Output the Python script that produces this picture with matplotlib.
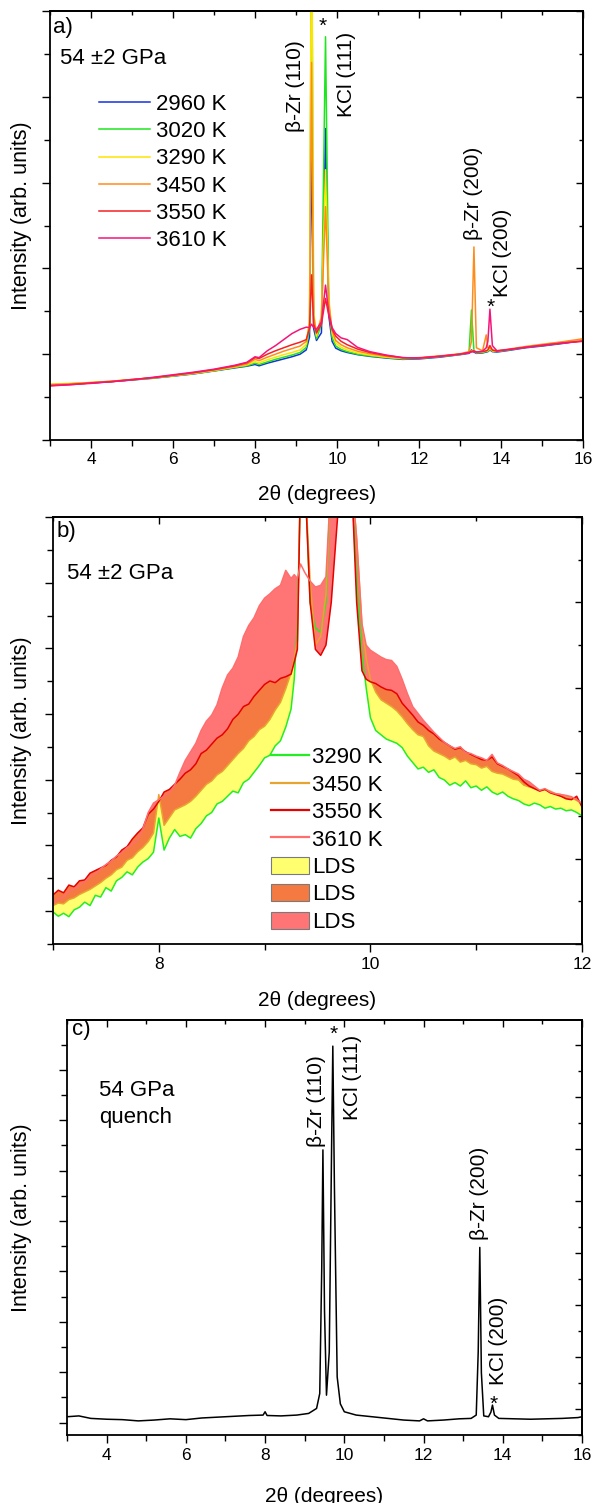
import matplotlib
matplotlib.use('Agg')
import matplotlib.pyplot as plt
from matplotlib.ticker import MultipleLocator
from matplotlib.patches import Patch
from matplotlib.lines import Line2D

plt.rcParams['font.family'] = ['Liberation Sans', 'DejaVu Sans']

# ---------------- panel a: 54 +-2 GPa, heating series ----------------
xa = [3.0, 3.5, 4.0, 4.5, 5.0, 5.5, 6.0, 6.5, 7.0, 7.5,
      7.8, 8.0, 8.1, 8.3, 8.5, 8.7, 8.9, 9.1, 9.25, 9.33,
      9.38, 9.43, 9.5, 9.62, 9.72, 9.8, 9.88, 9.97, 10.1, 10.25,
      10.5, 10.8, 11.2, 11.6, 12.0, 12.5, 13.0, 13.22, 13.28, 13.34,
      13.4, 13.55, 13.64, 13.68, 13.73, 13.79, 13.9, 14.2, 14.6, 15.0,
      15.5, 16.0]
a_2960 = [12.8, 13.0, 13.3, 13.6, 14.0, 14.4, 14.9, 15.4, 16.1, 16.8,
          17.2, 17.6, 17.3, 17.9, 18.4, 18.9, 19.4, 20.0, 21.0, 24.0,
          70.0, 26.0, 23.2, 25.0, 72.6, 29.0, 23.0, 21.4, 20.8, 20.4,
          19.9, 19.5, 19.1, 18.8, 18.9, 19.3, 19.9, 20.2, 21.0, 20.5,
          20.2, 20.3, 20.5, 20.6, 21.0, 20.6, 20.5, 20.9, 21.5, 21.9,
          22.5, 23.2]
a_3020 = [12.9, 13.1, 13.3, 13.7, 14.0, 14.4, 14.9, 15.5, 16.1, 16.9,
          17.3, 17.9, 17.6, 18.2, 18.8, 19.3, 19.8, 20.4, 21.6, 26.0,
          130.0, 28.0, 23.6, 27.0, 94.0, 31.0, 24.0, 21.9, 21.1, 20.6,
          20.0, 19.6, 19.2, 18.9, 19.0, 19.4, 19.9, 20.4, 30.3, 20.8,
          20.3, 20.4, 20.6, 20.7, 21.2, 20.7, 20.6, 21.0, 21.6, 22.0,
          22.6, 23.3]
a_3290 = [13.0, 13.2, 13.4, 13.7, 14.1, 14.5, 15.0, 15.5, 16.2, 17.0,
          17.5, 18.3, 18.0, 18.7, 19.3, 19.9, 20.4, 21.0, 22.3, 28.0,
          130.0, 30.0, 24.2, 29.0, 63.0, 33.0, 25.0, 22.6, 21.6, 21.0,
          20.3, 19.8, 19.3, 19.0, 19.1, 19.5, 20.0, 20.4, 20.8, 20.9,
          20.4, 20.5, 20.8, 20.8, 21.3, 20.8, 20.7, 21.1, 21.7, 22.1,
          22.7, 23.4]
a_3450 = [12.9, 13.1, 13.4, 13.7, 14.1, 14.5, 15.0, 15.6, 16.3, 17.1,
          17.7, 18.8, 18.5, 19.3, 20.0, 20.7, 21.3, 21.9, 23.0, 27.0,
          88.0, 29.0, 24.8, 28.5, 54.4, 32.0, 25.5, 23.2, 22.2, 21.5,
          20.7, 20.1, 19.5, 19.1, 19.2, 19.6, 20.1, 20.6, 23.0, 45.0,
          21.5, 20.8, 24.5, 21.5, 21.4, 20.9, 20.8, 21.2, 21.8, 22.3,
          22.9, 23.6]
a_3550 = [12.7, 12.9, 13.3, 13.6, 14.1, 14.5, 15.1, 15.7, 16.4, 17.3,
          18.0, 19.2, 19.0, 20.0, 20.8, 21.5, 22.2, 22.8, 23.4, 26.0,
          38.5, 27.0, 25.0, 27.0, 33.0, 29.0, 25.8, 24.2, 23.0, 22.2,
          21.2, 20.4, 19.7, 19.2, 19.1, 19.5, 20.0, 20.4, 20.7, 20.8,
          20.5, 20.6, 20.8, 21.0, 22.0, 21.0, 20.7, 21.1, 21.6, 22.1,
          22.6, 23.0]
a_3610 = [12.6, 12.9, 13.2, 13.6, 14.0, 14.6, 15.2, 15.8, 16.5, 17.4,
          18.1, 19.4, 19.2, 20.8, 22.0, 23.4, 24.8, 25.8, 26.3, 26.2,
          27.0, 26.2, 25.8, 27.5, 36.1, 29.5, 26.2, 24.8, 23.8, 23.4,
          21.6, 20.6, 19.8, 19.2, 19.1, 19.5, 20.0, 20.3, 20.5, 20.6,
          20.5, 20.7, 21.5, 23.0, 30.5, 22.0, 20.8, 21.1, 21.6, 22.0,
          22.6, 23.1]
a_labels = ['2960 K', '3020 K', '3290 K', '3450 K', '3550 K', '3610 K']
a_colors = ['#1432E0', '#1EE61E', '#FFE400', '#FF8C1A', '#F52222', '#F5157A']

# ---------------- panel b: zoom on the diffuse signal ----------------
xb = [7.00, 7.05, 7.10, 7.15, 7.20, 7.25, 7.30, 7.35, 7.40, 7.45,
      7.50, 7.55, 7.60, 7.65, 7.70, 7.75, 7.80, 7.85, 7.90, 7.95,
      8.00, 8.05, 8.10, 8.15, 8.20, 8.25, 8.30, 8.35, 8.40, 8.45,
      8.50, 8.55, 8.60, 8.65, 8.70, 8.75, 8.80, 8.85, 8.90, 8.95,
      9.00, 9.05, 9.10, 9.15, 9.20, 9.25,
      9.28, 9.31, 9.34, 9.38, 9.43, 9.48, 9.53, 9.58, 9.63, 9.72,
      9.82, 9.87, 9.92, 9.96,
      10.00, 10.05, 10.10, 10.15, 10.20, 10.25, 10.30, 10.35, 10.40, 10.45,
      10.50, 10.55, 10.60, 10.65, 10.70, 10.75, 10.80, 10.85, 10.90, 10.95,
      11.00, 11.05, 11.10, 11.15, 11.20, 11.25, 11.30, 11.35, 11.40, 11.45,
      11.50, 11.55, 11.60, 11.65, 11.70, 11.75, 11.80, 11.85, 11.90, 11.95,
      12.00]
b_3290 = [7.5, 6.5, 7.2, 6.4, 8.0, 8.6, 9.8, 9.0, 11.4, 11.0,
          13.2, 12.4, 14.8, 15.6, 16.9, 16.2, 18.0, 19.2, 20.0, 21.5,
          29.5, 22.0, 24.8, 26.8, 25.2, 25.6, 24.8, 27.0, 28.2, 30.0,
          30.8, 32.8, 33.4, 34.6, 35.8, 35.4, 37.8, 38.6, 40.2, 41.8,
          43.6, 44.2, 46.4, 47.6, 50.8, 55.0,
          62.0, 75.0, 110.0, 110.0, 80.0, 74.0, 73.0, 80.0, 110.0, 110.0,
          110.0, 85.0, 68.0, 60.0,
          53.0, 50.0, 49.0, 48.0, 47.5, 47.0, 46.0, 44.0, 42.5, 41.0,
          41.4, 40.2, 40.8, 39.0, 38.4, 37.2, 37.8, 37.0, 38.2, 36.6,
          37.0, 36.0, 36.8, 35.6, 35.0, 35.6, 34.6, 34.0, 33.6, 32.8,
          32.4, 33.0, 32.6, 31.8, 32.2, 31.6, 31.8, 31.2, 31.4, 30.8,
          30.0]
b_3450 = [9.0, 9.6, 9.4, 10.4, 10.8, 11.6, 12.2, 12.8, 13.6, 14.4,
          15.4, 16.2, 17.4, 18.0, 19.6, 20.2, 21.6, 22.6, 24.0, 26.0,
          35.0, 27.8, 29.6, 31.4, 32.0, 32.6, 33.4, 34.6, 36.0, 37.4,
          38.2, 39.6, 40.4, 41.8, 43.2, 44.6, 45.8, 47.6, 48.6, 50.2,
          51.0, 52.6, 54.8, 56.6, 59.8, 63.5,
          67.0, 71.0, 110.0, 110.0, 85.0, 70.0, 72.0, 82.0, 110.0, 110.0,
          110.0, 95.0, 75.0, 67.0,
          62.0, 59.0, 57.2, 56.4, 55.6, 54.6, 53.2, 51.6, 50.2, 49.0,
          48.6, 46.4, 45.2, 44.6, 44.0, 43.2, 43.8, 42.6, 43.0, 42.2,
          42.0, 41.2, 41.6, 40.4, 40.0, 39.8, 39.2, 38.6, 38.4, 37.2,
          36.8, 36.4, 36.0, 36.2, 35.8, 35.2, 35.0, 34.6, 34.3, 33.6,
          32.9]
b_3550 = [11.5, 12.6, 12.0, 13.8, 13.4, 14.8, 15.0, 16.6, 17.2, 17.8,
          18.4, 19.6, 20.4, 22.0, 22.8, 24.6, 26.0, 27.2, 30.4, 31.6,
          33.4, 35.6, 36.2, 37.4, 38.6, 40.0, 40.8, 42.2, 44.6, 45.4,
          46.8, 48.2, 49.0, 50.4, 52.6, 53.8, 55.6, 56.2, 58.0, 59.4,
          60.8, 61.6, 61.2, 62.2, 62.6, 63.2,
          66.0, 69.0, 110.0, 110.0, 80.0, 69.0, 67.6, 70.0, 80.0, 110.0,
          110.0, 80.0, 64.0, 62.0,
          61.4, 61.0, 60.2, 59.6, 59.4, 58.6, 56.4, 55.0, 53.6, 52.0,
          51.2, 50.0, 49.2, 48.0, 47.2, 46.4, 45.6, 46.0, 45.0, 44.4,
          43.8, 43.2, 43.0, 43.8, 42.2, 41.6, 41.0, 40.2, 39.4, 38.0,
          37.0, 36.4, 35.8, 36.2, 35.4, 35.0, 34.6, 34.0, 33.8, 34.6,
          32.1]
b_3610 = [9.5, 10.6, 11.0, 12.4, 13.0, 13.8, 14.6, 15.8, 16.4, 17.6,
          18.6, 19.4, 20.6, 21.4, 22.6, 23.4, 24.4, 27.0, 30.8, 33.0,
          33.8, 34.6, 35.4, 37.2, 40.2, 43.0, 45.0, 47.0, 50.0, 52.2,
          53.6, 56.0, 60.0, 63.0, 64.6, 67.2, 72.0, 74.6, 76.4, 79.2,
          81.0, 82.0, 83.2, 84.0, 87.5, 85.6,
          86.5, 85.6, 89.0, 87.0, 85.0, 83.6, 84.0, 86.0, 110.0, 110.0,
          110.0, 95.0, 75.0, 70.0,
          68.8, 68.0, 67.2, 66.6, 66.4, 65.0, 62.0, 58.6, 55.6, 54.0,
          52.4, 51.0, 49.6, 48.4, 47.2, 46.4, 45.8, 46.2, 44.8, 44.6,
          44.0, 43.6, 43.0, 44.4, 42.4, 41.8, 41.0, 40.4, 39.8, 38.6,
          38.0, 37.0, 36.0, 36.4, 35.6, 35.2, 35.0, 34.8, 34.5, 33.8,
          32.9]
b_labels = ['3290 K', '3450 K', '3550 K', '3610 K']
b_colors = ['#22EE22', '#E8A430', '#E60000', '#FF6E6E']
lds_colors = ['#FFFF70', '#F47A42', '#FF7575']

# ---------------- panel c: quench ----------------
xc = [3.0, 3.3, 3.6, 4.0, 4.4, 4.8, 5.2, 5.6, 6.0, 6.4,
      6.8, 7.2, 7.6, 7.95, 8.0, 8.05, 8.4, 8.8, 9.1, 9.3,
      9.38, 9.43, 9.46, 9.5, 9.55, 9.62, 9.68, 9.71, 9.75, 9.82,
      9.9, 10.0, 10.3, 10.7, 11.1, 11.5, 11.9, 12.0, 12.1, 12.5,
      12.9, 13.2, 13.33, 13.38, 13.42, 13.46, 13.52, 13.64, 13.7, 13.74,
      13.79, 13.9, 14.3, 14.7, 15.1, 15.5, 15.9, 16.0]
c_quench = [4.4, 4.6, 4.0, 3.8, 3.7, 3.4, 3.6, 3.9, 3.7, 4.1,
            4.3, 4.5, 4.7, 4.8, 5.6, 4.7, 4.6, 4.8, 5.2, 6.4,
            10.0, 40.0, 68.7, 30.0, 9.6, 20.0, 70.0, 93.7, 60.0, 14.0,
            7.5, 5.6, 4.8, 4.4, 4.0, 3.6, 3.4, 3.9, 3.4, 3.6,
            3.9, 4.0, 4.8, 20.0, 45.2, 15.0, 4.6, 4.4, 5.5, 7.2,
            4.8, 4.0, 3.9, 3.8, 3.9, 4.0, 4.2, 4.4]

W, H = 594, 1503


def rect(l, t, r, b):
    return [l / W, 1 - b / H, (r - l) / W, (b - t) / H]


def px(x, y):
    return x / W, 1 - y / H


def style(ax, xmaj, xmin, yl, yr):
    # left/bottom ticks outside, top/right inside (Origin look)
    for s in ax.spines.values():
        s.set_linewidth(1.3)
    ax.xaxis.set_major_locator(MultipleLocator(xmaj))
    ax.xaxis.set_minor_locator(MultipleLocator(xmin))
    ax.yaxis.set_major_locator(MultipleLocator(yl[0], offset=yl[2]))
    ax.yaxis.set_minor_locator(MultipleLocator(yl[1], offset=yl[2]))
    ax.tick_params(which='both', direction='out', width=1.0, labelsize=12.5,
                   labelleft=False, pad=3)
    ax.tick_params(which='major', length=6)
    ax.tick_params(which='minor', length=4)
    top = ax.secondary_xaxis('top')
    top.xaxis.set_major_locator(MultipleLocator(xmaj))
    top.xaxis.set_minor_locator(MultipleLocator(xmin))
    top.tick_params(which='both', direction='in', width=1.0, labeltop=False)
    top.tick_params(which='major', length=5)
    top.tick_params(which='minor', length=3)
    top.spines['top'].set_linewidth(1.3)
    right = ax.secondary_yaxis('right')
    right.yaxis.set_major_locator(MultipleLocator(yr[0], offset=yr[2]))
    right.yaxis.set_minor_locator(MultipleLocator(yr[1], offset=yr[2]))
    right.tick_params(which='both', direction='in', width=1.0, labelright=False)
    right.tick_params(which='major', length=5)
    right.tick_params(which='minor', length=3)
    right.spines['right'].set_linewidth(1.3)


fig = plt.figure(figsize=(W / 100, H / 100), dpi=100)
ann = dict(rotation=90, ha='center', va='bottom', fontsize=15)
FS = 16      # in-plot labels and legends
LFS = 15.5   # axis titles

# ---------- a ----------
axa = fig.add_axes(rect(50, 11, 583, 440))
series_a = [a_2960, a_3020, a_3290, a_3450, a_3550, a_3610]
for ys, lab, col in zip(series_a, a_labels, a_colors):
    axa.plot(xa, ys, color=col, lw=1.1, label=lab)
axa.set_xlim(3, 16)
axa.set_ylim(0, 100)
style(axa, 2, 1, (20, 10, 0), (20, 10, 0))
axa.legend(loc='upper left', bbox_to_anchor=px(99, 94), bbox_transform=fig.transFigure,
           frameon=False, borderpad=0, borderaxespad=0, handlelength=2.3,
           handletextpad=0.25, labelspacing=0.28, fontsize=FS)
axa.text(8.98, 71.9, 'β-Zr (110)', **ann)
axa.text(10.24, 75.4, 'KCl (111)', **ann)
axa.text(13.32, 46.6, 'β-Zr (200)', **ann)
axa.text(14.04, 33.4, 'KCl (200)', **ann)
axa.text(9.64, 96.5, '*', ha='center', va='center', fontsize=15)
axa.text(13.74, 31.0, '*', ha='center', va='center', fontsize=15)
fig.text(*px(53, 27), 'a)', fontsize=FS, va='center')
fig.text(*px(60, 58), '54 ±2 GPa', fontsize=FS, va='center')
fig.text(*px(22, 216), 'Intensity (arb. units)', rotation=90, ha='center',
         va='center', fontsize=LFS)
fig.text(*px(317, 494), '2θ (degrees)', ha='center', va='center', fontsize=15)

# ---------- b ----------
axb = fig.add_axes(rect(53, 517, 582, 944))
series_b = [b_3290, b_3450, b_3550, b_3610]
for lo, hi, col in zip(series_b[:-1], series_b[1:], lds_colors):
    axb.fill_between(xb, lo, hi, where=[h >= l for l, h in zip(lo, hi)],
                     interpolate=True, color=col, lw=0)
line_handles = []
for ys, col in zip(series_b, b_colors):
    axb.plot(xb, ys, color=col, lw=1.1)
    line_handles.append(Line2D([], [], color=col, lw=1.6))
axb.set_xlim(7, 12)
axb.set_ylim(0, 100)
style(axb, 2, 1, (200 / 13, 100 / 13, 100 / 13), (20, 10, 0))
patch_handles = [Patch(facecolor=c, edgecolor='#7a7a7a', lw=0.8) for c in lds_colors]
axb.legend(line_handles + patch_handles, b_labels + ['LDS'] * 3,
           loc='upper left', bbox_to_anchor=px(271, 747), bbox_transform=fig.transFigure,
           frameon=False, borderpad=0, borderaxespad=0, handlelength=1.7,
           handleheight=0.8, handletextpad=0.14, labelspacing=0.28, fontsize=FS)
fig.text(*px(57, 532), 'b)', fontsize=FS, va='center')
fig.text(*px(67, 573), '54 ±2 GPa', fontsize=FS, va='center')
fig.text(*px(22, 731), 'Intensity (arb. units)', rotation=90, ha='center',
         va='center', fontsize=LFS)
fig.text(*px(317, 1000), '2θ (degrees)', ha='center', va='center', fontsize=15)

# ---------- c ----------
axc = fig.add_axes(rect(67, 1020, 582, 1435))
axc.plot(xc, c_quench, color='black', lw=1.1)
axc.set_xlim(3, 16)
axc.set_ylim(0, 100)
style(axc, 2, 1, (12.14, 6.07, 3.0), (12.54, 6.27, 6.27))
axc.text(9.29, 69.5, 'β-Zr (110)', **ann)
axc.text(10.20, 75.9, 'KCl (111)', **ann)
axc.text(13.40, 47.0, 'β-Zr (200)', **ann)
axc.text(13.88, 12.0, 'KCl (200)', **ann)
axc.text(9.72, 96.5, '*', ha='center', va='center', fontsize=15)
axc.text(13.78, 7.5, '*', ha='center', va='center', fontsize=15)
fig.text(*px(72, 1030), 'c)', fontsize=FS, va='center')
fig.text(*px(99, 1091), '54 GPa', fontsize=FS, va='center')
fig.text(*px(99, 1117), 'quench', fontsize=FS, va='center')
fig.text(*px(22, 1218), 'Intensity (arb. units)', rotation=90, ha='center',
         va='center', fontsize=LFS)
fig.text(*px(324, 1496), '2θ (degrees)', ha='center', va='center', fontsize=15)

fig.savefig('out.png', dpi=100, facecolor='white')
